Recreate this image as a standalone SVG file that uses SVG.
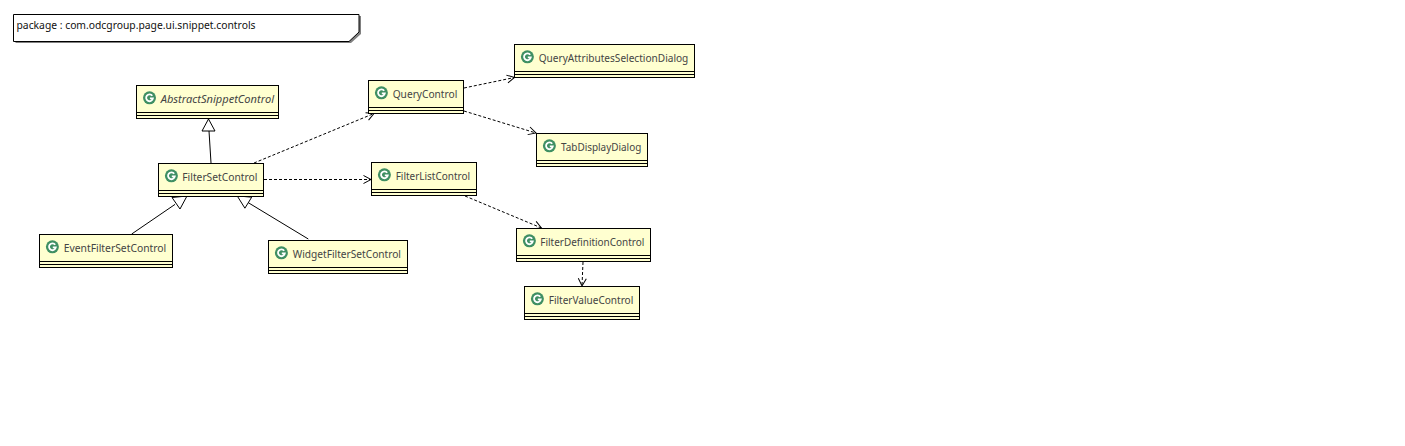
<svg xmlns="http://www.w3.org/2000/svg" width="1405" height="446" viewBox="0 0 1405 446">
<style>
text{font-family:"Noto Sans","DejaVu Sans",sans-serif;font-size:11px;fill:#444}
text.note{fill:#111}
.box{fill:#ffffd0;stroke:#000;stroke-width:1}
.sep{stroke:#000;stroke-width:1;fill:none}
.dep{stroke:#000;stroke-width:1;fill:none;stroke-dasharray:3 2;marker-end:url(#open)}
.gen{stroke:#000;stroke-width:1;fill:none}
.tri{stroke:#000;stroke-width:1;fill:#fff}
</style>
<defs>
<marker id="open" markerUnits="userSpaceOnUse" markerWidth="12" markerHeight="12" refX="9" refY="6" orient="auto">
<path d="M1.5 2 L9 6 L1.5 10" fill="none" stroke="#000" stroke-width="1"/>
</marker>
<g id="icon">
<circle r="6.5" fill="#3f8f63"/>
<path d="M2.8 -2 A3.4 3.4 0 1 0 3.4 0.6 L0.4 0.6" fill="none" stroke="#fff" stroke-width="1.8"/>
</g>
</defs>
<rect width="1405" height="446" fill="#fff"/>
<g id="connectors">
<path class="gen" d="M211 163 L209 131"/>
<path class="tri" d="M208.5 119 L202 131 L215 131 Z"/>
<path class="gen" d="M131.7 234 L175 204.4"/>
<path class="tri" d="M187 196 L180 209 L172 197.5 Z"/>
<path class="gen" d="M308.3 239 L248.3 202.7"/>
<path class="tri" d="M237.2 195.9 L251.7 197.2 L244.9 208.2 Z"/>
<path class="dep" d="M254 163 L374 113.5"/>
<path class="dep" d="M264 179.5 L371 179.5"/>
<path class="dep" d="M464 88 L514.5 77.5"/>
<path class="dep" d="M464 111 L536 133"/>
<path class="dep" d="M465 196 L541.5 228"/>
<path class="dep" d="M583 262 L582 286"/>
</g>
<g id="package-note">
<path d="M15.5 16 H361 V34 L351 43 H15.5 Z" fill="#808080"/>
<path d="M13.5 14.5 H359 V32 L349 41.5 H13.5 Z" fill="#fff" stroke="#000"/>
<text class="note" x="16.5" y="29" textLength="239" lengthAdjust="spacingAndGlyphs">package : com.odcgroup.page.ui.snippet.controls</text>
</g>
<g id="AbstractSnippetControl">
<rect class="box" x="136.5" y="85.5" width="142" height="33"/>
<path class="sep" d="M136.5 112.5 H278.5 M136.5 115.5 H278.5"/>
<use href="#icon" x="149.5" y="97.8"/>
<text x="160.7" y="103" font-style="italic" textLength="113.3" lengthAdjust="spacingAndGlyphs">AbstractSnippetControl</text>
</g>
<g id="FilterSetControl">
<rect class="box" x="158.5" y="163.5" width="105" height="33"/>
<path class="sep" d="M158.5 190.5 H263.5 M158.5 193.5 H263.5"/>
<use href="#icon" x="171.4" y="175.8"/>
<text x="182.3" y="181" textLength="75" lengthAdjust="spacingAndGlyphs">FilterSetControl</text>
</g>
<g id="EventFilterSetControl">
<rect class="box" x="39.5" y="234.5" width="133" height="33"/>
<path class="sep" d="M39.5 261.5 H172.5 M39.5 264.5 H172.5"/>
<use href="#icon" x="52.4" y="246.8"/>
<text x="63.7" y="252" textLength="102.6" lengthAdjust="spacingAndGlyphs">EventFilterSetControl</text>
</g>
<g id="WidgetFilterSetControl">
<rect class="box" x="268.5" y="240.5" width="139" height="33"/>
<path class="sep" d="M268.5 267.5 H407.5 M268.5 270.5 H407.5"/>
<use href="#icon" x="281.4" y="252.8"/>
<text x="292.7" y="258" textLength="108.3" lengthAdjust="spacingAndGlyphs">WidgetFilterSetControl</text>
</g>
<g id="QueryControl">
<rect class="box" x="368.5" y="80.5" width="95" height="33"/>
<path class="sep" d="M368.5 107.5 H463.5 M368.5 110.5 H463.5"/>
<use href="#icon" x="381.4" y="92.8"/>
<text x="392.7" y="98" textLength="64.6" lengthAdjust="spacingAndGlyphs">QueryControl</text>
</g>
<g id="QueryAttributesSelectionDialog">
<rect class="box" x="514.5" y="44.5" width="180" height="33"/>
<path class="sep" d="M514.5 71.5 H694.5 M514.5 74.5 H694.5"/>
<use href="#icon" x="527.4" y="56.8"/>
<text x="538.7" y="62" textLength="149.6" lengthAdjust="spacingAndGlyphs">QueryAttributesSelectionDialog</text>
</g>
<g id="TabDisplayDialog">
<rect class="box" x="536.5" y="133.5" width="111" height="33"/>
<path class="sep" d="M536.5 160.5 H647.5 M536.5 163.5 H647.5"/>
<use href="#icon" x="549.4" y="145.8"/>
<text x="561" y="151" textLength="80.3" lengthAdjust="spacingAndGlyphs">TabDisplayDialog</text>
</g>
<g id="FilterListControl">
<rect class="box" x="371.5" y="162.5" width="105" height="33"/>
<path class="sep" d="M371.5 189.5 H476.5 M371.5 192.5 H476.5"/>
<use href="#icon" x="384.4" y="174.8"/>
<text x="395.7" y="180" textLength="74.3" lengthAdjust="spacingAndGlyphs">FilterListControl</text>
</g>
<g id="FilterDefinitionControl">
<rect class="box" x="516.5" y="228.5" width="134" height="33"/>
<path class="sep" d="M516.5 255.5 H650.5 M516.5 258.5 H650.5"/>
<use href="#icon" x="529.4" y="240.8"/>
<text x="540.3" y="246" textLength="104" lengthAdjust="spacingAndGlyphs">FilterDefinitionControl</text>
</g>
<g id="FilterValueControl">
<rect class="box" x="524.5" y="286.5" width="115" height="33"/>
<path class="sep" d="M524.5 313.5 H639.5 M524.5 316.5 H639.5"/>
<use href="#icon" x="537.4" y="298.8"/>
<text x="548.7" y="304" textLength="84.6" lengthAdjust="spacingAndGlyphs">FilterValueControl</text>
</g>
</svg>
